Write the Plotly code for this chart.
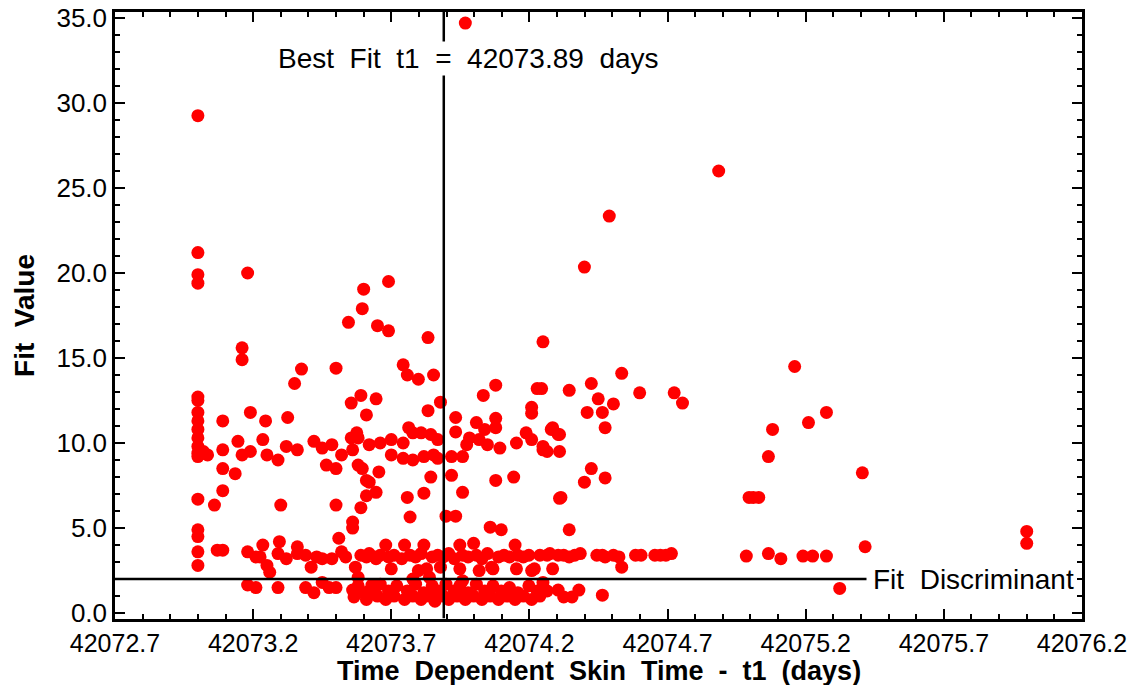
import plotly.graph_objects as go

# ---------------- data ----------------
best_fit_t1 = 42073.89
fit_discriminant = 2.0
x_tick_vals = [42072.7, 42073.2, 42073.7, 42074.2, 42074.7, 42075.2, 42075.7, 42076.2]
x_tick_text = ["42072.7", "42073.2", "42073.7", "42074.2", "42074.7", "42075.2", "42075.7", "42076.2"]
y_tick_vals = [0, 5, 10, 15, 20, 25, 30, 35]
x_title = "Time  Dependent  Skin  Time  -  t1  (days)"
y_title = "Fit  Value"

# left column of fits
col_t1 = [42073.00] * 18 + [42073.035, 42073.02]
col_fit = [29.25, 21.2, 19.9, 19.4, 12.7, 12.5, 11.8, 11.3, 10.8, 10.3, 9.8, 9.4, 9.2,
           6.7, 4.9, 4.5, 3.6, 2.8, 9.3, 9.5]

# scattered mid / upper fits
mid_t1 = [
    42073.09, 42073.19, 42073.245, 42073.325, 42073.09, 42073.145, 42073.16, 42073.19, 42073.235,
    42073.25, 42073.29, 42073.32, 42073.36, 42073.09, 42073.135, 42073.09, 42073.06, 42073.30,
    42073.42, 42073.45, 42073.485, 42073.52, 42073.465, 42073.50, 42073.555, 42073.59, 42073.61,
    42073.575, 42073.555, 42073.56, 42073.58, 42073.61, 42073.62, 42073.61, 42073.59, 42073.50,
    42073.56, 42073.56, 42073.51, 42073.07, 42073.09,
    42073.35, 42073.18, 42073.16, 42073.16, 42073.375, 42073.50, 42073.60, 42073.69, 42073.595,
    42073.545, 42073.65, 42073.69, 42073.833, 42073.743, 42073.758, 42073.798, 42073.853, 42073.968,
    42074.399, 42074.489, 42074.885, 42074.249, 42075.16,
    42073.645, 42073.833, 42073.878, 42073.933, 42074.033, 42074.078, 42074.244, 42074.208, 42074.208,
    42073.933, 42074.008, 42074.038, 42074.078, 42074.078, 42073.983, 42073.973, 42074.018, 42074.048,
    42074.093, 42074.153, 42074.188, 42074.208, 42074.249, 42074.279, 42074.304, 42073.918, 42073.958,
    42073.62, 42073.66, 42073.70, 42073.743, 42073.763, 42073.778, 42073.808, 42073.843, 42073.868,
    42073.70, 42073.743, 42073.778, 42073.818, 42073.853, 42073.868, 42073.58, 42073.595, 42073.655,
    42073.843, 42073.918, 42074.078, 42074.143, 42073.645, 42073.758, 42073.818, 42073.958, 42074.309,
    42073.768, 42073.898, 42073.933, 42074.058, 42074.098,
    42074.344, 42074.424, 42074.599, 42074.724, 42074.754, 42074.449, 42074.504, 42074.409, 42074.464,
    42074.474, 42074.284, 42074.309, 42074.249, 42074.264, 42074.309, 42074.424, 42074.399, 42074.474,
    42074.314, 42074.344, 42074.228, 42074.534,
    42075.21, 42075.275, 42075.08, 42075.065, 42074.995, 42075.01, 42075.03, 42075.405, 42076.00,
    42076.00,
]
mid_fit = [
    11.3, 11.8, 11.3, 11.5, 9.6, 10.1, 9.3, 9.5, 10.2,
    9.3, 9.0, 9.8, 9.6, 8.5, 8.2, 7.2, 6.35, 6.35,
    10.1, 9.7, 9.9, 9.3, 8.7, 8.5, 12.35, 12.8, 11.65,
    10.6, 10.3, 9.6, 8.7, 7.8, 7.7, 6.9, 6.2, 6.35,
    5.35, 5.0, 4.4, 3.7, 3.7,
    13.5, 20.0, 15.6, 14.9, 14.35, 14.4, 19.05, 19.5, 17.9,
    17.1, 16.9, 16.6, 16.2, 14.6, 14.0, 13.75, 14.0, 34.7,
    20.35, 23.35, 26.0, 15.95, 14.5,
    12.6, 11.9, 12.4, 11.5, 12.8, 13.4, 13.2, 12.1, 11.75,
    10.65, 11.2, 10.8, 11.45, 10.9, 10.3, 9.9, 10.2, 9.9,
    9.7, 10.0, 10.6, 10.2, 9.6, 10.8, 10.5, 9.2, 9.2,
    9.9, 10.0, 10.2, 10.0, 10.9, 10.6, 10.6, 10.5, 10.2,
    9.3, 9.1, 9.0, 9.2, 9.3, 9.1, 10.3, 8.5, 8.3,
    8.0, 8.1, 7.8, 8.0, 7.1, 6.8, 7.05, 7.1, 6.75,
    5.65, 5.7, 5.7, 5.05, 4.9,
    13.1, 13.5, 12.95, 12.95, 12.35, 12.6, 12.3, 11.8, 11.8,
    10.9, 10.9, 10.5, 9.8, 9.5, 9.5, 8.5, 7.7, 7.95,
    6.8, 4.9, 13.2, 14.1,
    11.2, 11.8, 10.8, 9.2, 6.8, 6.8, 6.8, 8.25, 4.8,
    4.1,
]

# band of fits around 3-4
band_t1 = [
    42073.18, 42073.21, 42073.235, 42073.225, 42073.25, 42073.26, 42073.295, 42073.29, 42073.32,
    42073.36, 42073.36, 42073.39, 42073.41, 42073.43, 42073.45, 42073.485, 42073.52, 42073.535,
    42073.57, 42073.58, 42073.61, 42073.645,
    42073.59, 42073.62, 42073.64, 42073.66, 42073.68, 42073.69, 42073.71, 42073.738, 42073.748,
    42073.768, 42073.788, 42073.808, 42073.818, 42073.828, 42073.848, 42073.868, 42073.888, 42073.908,
    42073.928, 42073.948, 42073.958, 42073.978, 42073.998, 42074.008, 42074.028, 42074.048, 42074.068,
    42074.088, 42074.108, 42074.128, 42074.148, 42074.158, 42074.178, 42074.198, 42074.218, 42074.238,
    42073.70, 42073.798, 42073.878, 42073.948, 42074.018, 42074.063, 42074.153, 42074.208,
    42074.264, 42074.274, 42074.284, 42074.304, 42074.324, 42074.344, 42074.364, 42074.384, 42074.444,
    42074.464, 42074.474, 42074.504, 42074.534, 42074.524, 42074.584, 42074.604, 42074.654, 42074.674,
    42074.694, 42074.714,
    42074.985, 42075.065, 42075.11, 42075.19, 42075.225, 42075.275, 42075.415,
]
band_fit = [
    3.6, 3.3, 4.0, 3.3, 2.8, 2.4, 4.2, 3.5, 3.2,
    3.9, 3.5, 3.4, 2.7, 3.3, 3.2, 3.2, 3.6, 3.3,
    2.7, 2.1, 3.3, 3.2,
    3.4, 3.5, 3.3, 3.4, 4.0, 3.3, 3.4, 3.2, 4.0,
    3.4, 3.3, 3.5, 4.0, 2.6, 3.3, 3.4, 3.3, 3.5,
    3.2, 4.0, 3.4, 3.3, 4.1, 3.4, 3.2, 3.5, 2.6,
    3.3, 3.4, 3.3, 4.0, 3.4, 3.3, 3.4, 2.6, 3.4,
    2.6, 2.5, 2.7, 2.6, 2.5, 2.7, 2.6, 2.5,
    3.4, 3.5, 2.6, 3.4, 3.4, 3.3, 3.4, 3.5, 3.4,
    3.4, 3.3, 3.4, 2.7, 3.3, 3.4, 3.4, 3.4, 3.4,
    3.4, 3.5,
    3.35, 3.5, 3.2, 3.35, 3.35, 3.35, 3.9,
]

# fits below the discriminant
low_t1 = [
    42073.18, 42073.21, 42073.29, 42073.39, 42073.42, 42073.45, 42073.475, 42073.50, 42073.56,
    42073.565, 42073.60, 42073.63, 42073.645,
    42073.58, 42073.61, 42073.62, 42073.65, 42073.66, 42073.68, 42073.69, 42073.71, 42073.72,
    42073.748, 42073.758, 42073.778, 42073.788, 42073.808, 42073.818, 42073.838, 42073.848, 42073.858,
    42073.868, 42073.888, 42073.898, 42073.908, 42073.928, 42073.938, 42073.948, 42073.968, 42073.978,
    42073.998, 42074.008, 42074.028, 42074.038, 42074.058, 42074.068, 42074.088, 42074.098, 42074.118,
    42074.128, 42074.148, 42074.158, 42074.178, 42074.198, 42074.208, 42074.228, 42074.238, 42073.778,
    42073.838, 42073.958,
    42074.249, 42074.264, 42074.304, 42074.324, 42074.354, 42074.379, 42074.464, 42075.323,
]
low_fit = [
    1.65, 1.5, 1.5, 1.5, 1.2, 1.8, 1.5, 1.5, 1.35,
    0.95, 1.2, 1.65, 1.05,
    1.6, 0.8, 1.3, 1.0, 1.7, 0.8, 1.3, 1.0, 1.6,
    0.8, 1.3, 1.0, 1.7, 0.8, 1.2, 1.0, 1.6, 0.7,
    1.3, 1.0, 1.7, 0.8, 1.3, 1.0, 1.6, 0.8, 1.2,
    1.0, 1.7, 0.8, 1.3, 1.0, 1.6, 0.8, 1.3, 1.0,
    1.5, 0.8, 1.2, 1.0, 1.6, 0.8, 1.3, 1.0, 2.0,
    2.1, 1.9,
    1.8, 1.3, 1.35, 0.95, 0.95, 1.35, 1.05, 1.45,
]

t1_values = col_t1 + mid_t1 + band_t1 + low_t1
fit_values = col_fit + mid_fit + band_fit + low_fit

# ---------------- figure ----------------
FONT = "Liberation Sans, Arial, sans-serif"
NB = "\u00a0\u00a0"


def keep_spaces(s):
    return s.replace(" ", "\u00a0")


fig = go.Figure()
fig.add_trace(go.Scatter(
    x=t1_values, y=fit_values, mode="markers",
    marker=dict(color="rgb(255,0,0)", size=13, line=dict(width=0)),
    showlegend=False, hoverinfo="x+y",
))

X0, X1 = 42072.7, 42076.2
Y0, Y1 = -0.35, 35.35

# best-fit vertical line and discriminant horizontal line
fig.add_shape(type="line", x0=best_fit_t1, x1=best_fit_t1, y0=-0.3, y1=Y1,
              xref="x", yref="y", line=dict(color="black", width=2.5), layer="above")
fig.add_shape(type="line", x0=X0, x1=42075.42, y0=fit_discriminant, y1=fit_discriminant,
              xref="x", yref="y", line=dict(color="black", width=2.5), layer="above")

fig.add_annotation(x=best_fit_t1, y=32.6, xref="x", yref="y",
                   text=f"Best{NB}Fit{NB}t1{NB}={NB}{best_fit_t1:.2f}{NB}days",
                   showarrow=False, bgcolor="white",
                   font=dict(family=FONT, size=28, color="black"),
                   xanchor="center", yanchor="middle", xshift=25)
fig.add_annotation(x=42075.435, y=fit_discriminant, xref="x", yref="y",
                   text=f"Fit{NB}Discriminant", showarrow=False,
                   font=dict(family=FONT, size=28, color="black"),
                   xanchor="left", yanchor="middle")

# x-axis title as a paper annotation so it sits tight under the tick labels
fig.add_annotation(x=0.5, y=0, xref="paper", yref="paper", yshift=-52,
                   text=f"<b>{keep_spaces(x_title)}</b>", showarrow=False,
                   font=dict(family=FONT, size=27, color="black"),
                   xanchor="center", yanchor="middle")

axis_common = dict(
    showline=True, linecolor="black", linewidth=2.5, mirror="allticks",
    ticks="inside", tickcolor="black", tickwidth=2, ticklen=10,
    showgrid=False, zeroline=False, automargin=False,
    tickfont=dict(family=FONT, size=25, color="black"),
)

fig.update_xaxes(
    range=[X0, X1], tickmode="array", tickvals=x_tick_vals, ticktext=x_tick_text,
    minor=dict(ticks="inside", ticklen=5, tickwidth=1.5, tickcolor="black", dtick=0.1, tick0=X0),
    **axis_common,
)
fig.update_yaxes(
    range=[Y0, Y1], tickmode="array", tickvals=y_tick_vals, tickformat=".1f",
    minor=dict(ticks="inside", ticklen=5, tickwidth=1.5, tickcolor="black", dtick=1, tick0=0),
    title=dict(text=f"<b>{keep_spaces(y_title)}</b>",
               font=dict(family=FONT, size=28, color="black"), standoff=14),
    **axis_common,
)
fig.update_yaxes(tickfont=dict(family=FONT, size=26, color="black"))

fig.update_layout(
    width=1141, height=685,
    margin=dict(l=115, r=59, t=12, b=66),
    paper_bgcolor="white", plot_bgcolor="white",
)

fig.write_html("out.html")
